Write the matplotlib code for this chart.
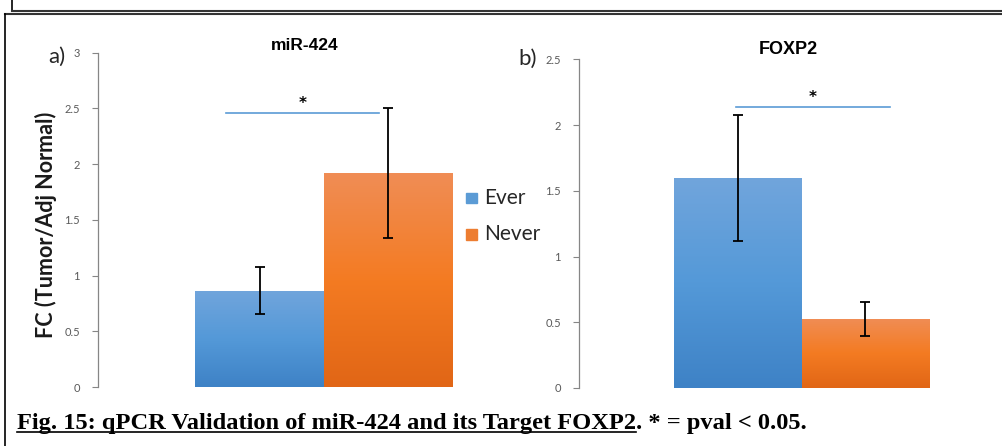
import numpy as np
import matplotlib
matplotlib.use("Agg")
import matplotlib.pyplot as plt
from matplotlib.lines import Line2D

# ---- data ----
groups = ["Ever", "Never"]
mir424_vals = [0.865, 1.92]
mir424_err = [0.21, 0.58]
foxp2_vals = [1.60, 0.525]
foxp2_err = [0.48, 0.13]
mir424_ticks = [0, 0.5, 1, 1.5, 2, 2.5, 3]
mir424_ticklabels = ["0", "0.5", "1", "1.5", "2", "2.5", "3"]
foxp2_ticks = [0, 0.5, 1, 1.5, 2, 2.5]
foxp2_ticklabels = ["0", "0.5", "1", "1.5", "2", "2.5"]
mir424_sig_y = 2.46
foxp2_sig_y = 2.135

W, H = 1003, 446
fig = plt.figure(figsize=(W / 100, H / 100), dpi=100)

# bottom, middle, top colours of the gradient fill
grad_colors = {
    "Ever": ("#3e82c6", "#5499d8", "#71a5dc"),
    "Never": ("#e16616", "#f47b22", "#f08d55"),
}
legend_colors = {"Ever": "#5b9bd5", "Never": "#ed7d31"}
tick_font = "Lato"

def px_axes(x0, x1, y0, y1):
    return fig.add_axes([x0 / W, 1 - y1 / H, (x1 - x0) / W, (y1 - y0) / H])

def hex2rgb(h):
    h = h.lstrip("#")
    return np.array([int(h[i:i + 2], 16) / 255 for i in (0, 2, 4)])

def gradient(cols, n=128):
    c0, c1, c2 = (hex2rgb(c) for c in cols)
    t = np.linspace(0, 1, n)[:, None]
    lo = c0 * (1 - 2 * t) + c1 * (2 * t)
    hi = c1 * (2 - 2 * t) + c2 * (2 * t - 1)
    return np.where(t < 0.5, lo, hi)[:, None, :]

def draw_panel(ax, vals, errs, ticks, ticklabels, ylim, xlim, sig_y, sig_x):
    ax.set_xlim(*xlim)
    ax.set_ylim(*ylim)
    bars = ax.bar(range(len(groups)), vals, width=1.0, color="none", edgecolor="none")
    for b, g in zip(bars, groups):
        img = gradient(grad_colors[g])
        x0, y0 = b.get_x(), b.get_y()
        im = ax.imshow(img, extent=[x0, x0 + b.get_width(), y0, y0 + b.get_height()],
                       origin="lower", aspect="auto", zorder=1, interpolation="bilinear")
        im.set_clip_path(b)
    ax.set_xlim(*xlim)
    ax.set_ylim(*ylim)
    ax.errorbar(range(len(groups)), vals, yerr=errs, fmt="none", ecolor="black",
                elinewidth=1.3, capsize=3.5, capthick=1.3, zorder=3)
    ax.plot(sig_x, [sig_y, sig_y], color="#5b9bd5", lw=1.2, zorder=3)
    ax.text(np.mean(sig_x), sig_y + 0.015, "*", ha="center", va="bottom",
            fontsize=11, fontweight="bold", family="DejaVu Sans", color="black")
    for s in ["top", "right", "bottom"]:
        ax.spines[s].set_visible(False)
    ax.spines["left"].set_color("#868686")
    ax.spines["left"].set_linewidth(0.9)
    ax.set_xticks([])
    ax.set_yticks(ticks)
    ax.set_yticklabels(ticklabels, fontsize=8, color="#595959", family=tick_font)
    ax.tick_params(axis="y", direction="out", length=4, width=0.8, color="#868686", pad=9)
    ax.patch.set_alpha(0)

# left panel: bar centres at 259.5 and 388 px
axL = px_axes(98, 552, 52.7, 387)
uL = 128.5
draw_panel(axL, mir424_vals, mir424_err, mir424_ticks, mir424_ticklabels,
           (0, 3), ((98 - 259.5) / uL, (552 - 259.5) / uL), mir424_sig_y,
           [(226 - 259.5) / uL, (379 - 259.5) / uL])

# right panel: bar centres at 738 and 865 px
axR = px_axes(579, 1003, 59.3, 388)
uR = 127.3
draw_panel(axR, foxp2_vals, foxp2_err, foxp2_ticks, foxp2_ticklabels,
           (0, 2.5), ((579 - 738) / uR, (1003 - 738) / uR), foxp2_sig_y,
           [(736 - 738) / uR, (890 - 738) / uR])

# titles
fig.text(305 / W, 1 - 45 / H, "miR-424", ha="center", va="center", fontsize=12.5,
         fontweight="bold", family="Liberation Sans")
fig.text(788 / W, 1 - 50 / H, "FOXP2", ha="center", va="center", fontsize=13,
         fontweight="bold", family="Liberation Sans")
fig.text(57 / W, 1 - 57 / H, "a)", ha="center", va="center", fontsize=16, family=tick_font,
         color="#262626")
fig.text(528 / W, 1 - 59 / H, "b)", ha="center", va="center", fontsize=16, family=tick_font,
         color="#262626")

# y label
fig.text(46 / W, 1 - 225 / H, "FC (Tumor/Adj Normal)", rotation=90, ha="center",
         va="center", fontsize=15.5, fontweight="bold", family=tick_font, color="#1a1a1a")

# legend
for i, g in enumerate(groups):
    yc = 198 + i * 36
    fig.patches.append(plt.Rectangle(((466) / W, 1 - (yc + 5.5) / H), 11.5 / W, 11 / H,
                                     transform=fig.transFigure, color=legend_colors[g],
                                     figure=fig))
    fig.text(484 / W, 1 - yc / H, g, ha="left", va="center", fontsize=15,
             family=tick_font, color="#262626")

# frame lines
fig.add_artist(Line2D([12 / W, 12 / W], [1, 1 - 11 / H], color="black", lw=1.2))
fig.add_artist(Line2D([12 / W, 1], [1 - 11 / H, 1 - 11 / H], color="#333333", lw=1.5))
fig.add_artist(Line2D([5 / W, 1], [1 - 14 / H, 1 - 14 / H], color="#333333", lw=1.5))
fig.add_artist(Line2D([5 / W, 5 / W], [1 - 14 / H, 0], color="black", lw=1.2))

# caption
cap1 = "Fig. 15: qPCR Validation of miR-424 and its Target FOXP2"
cap2 = ". * = pval < 0.05."
cap_fs = 17.6
t1 = fig.text(17 / W, 1 - 429 / H, cap1, ha="left", va="baseline", fontsize=cap_fs,
              fontweight="bold", family="Liberation Serif")
fig.canvas.draw()
r = fig.canvas.get_renderer()
bb = t1.get_window_extent(r)
fig.text(bb.x1 / W, 1 - 429 / H, cap2, ha="left", va="baseline", fontsize=cap_fs,
         fontweight="bold", family="Liberation Serif")
fig.add_artist(Line2D([bb.x0 / W, bb.x1 / W], [1 - 432 / H, 1 - 432 / H], color="black", lw=1.2))

fig.savefig("out.png", dpi=100)
